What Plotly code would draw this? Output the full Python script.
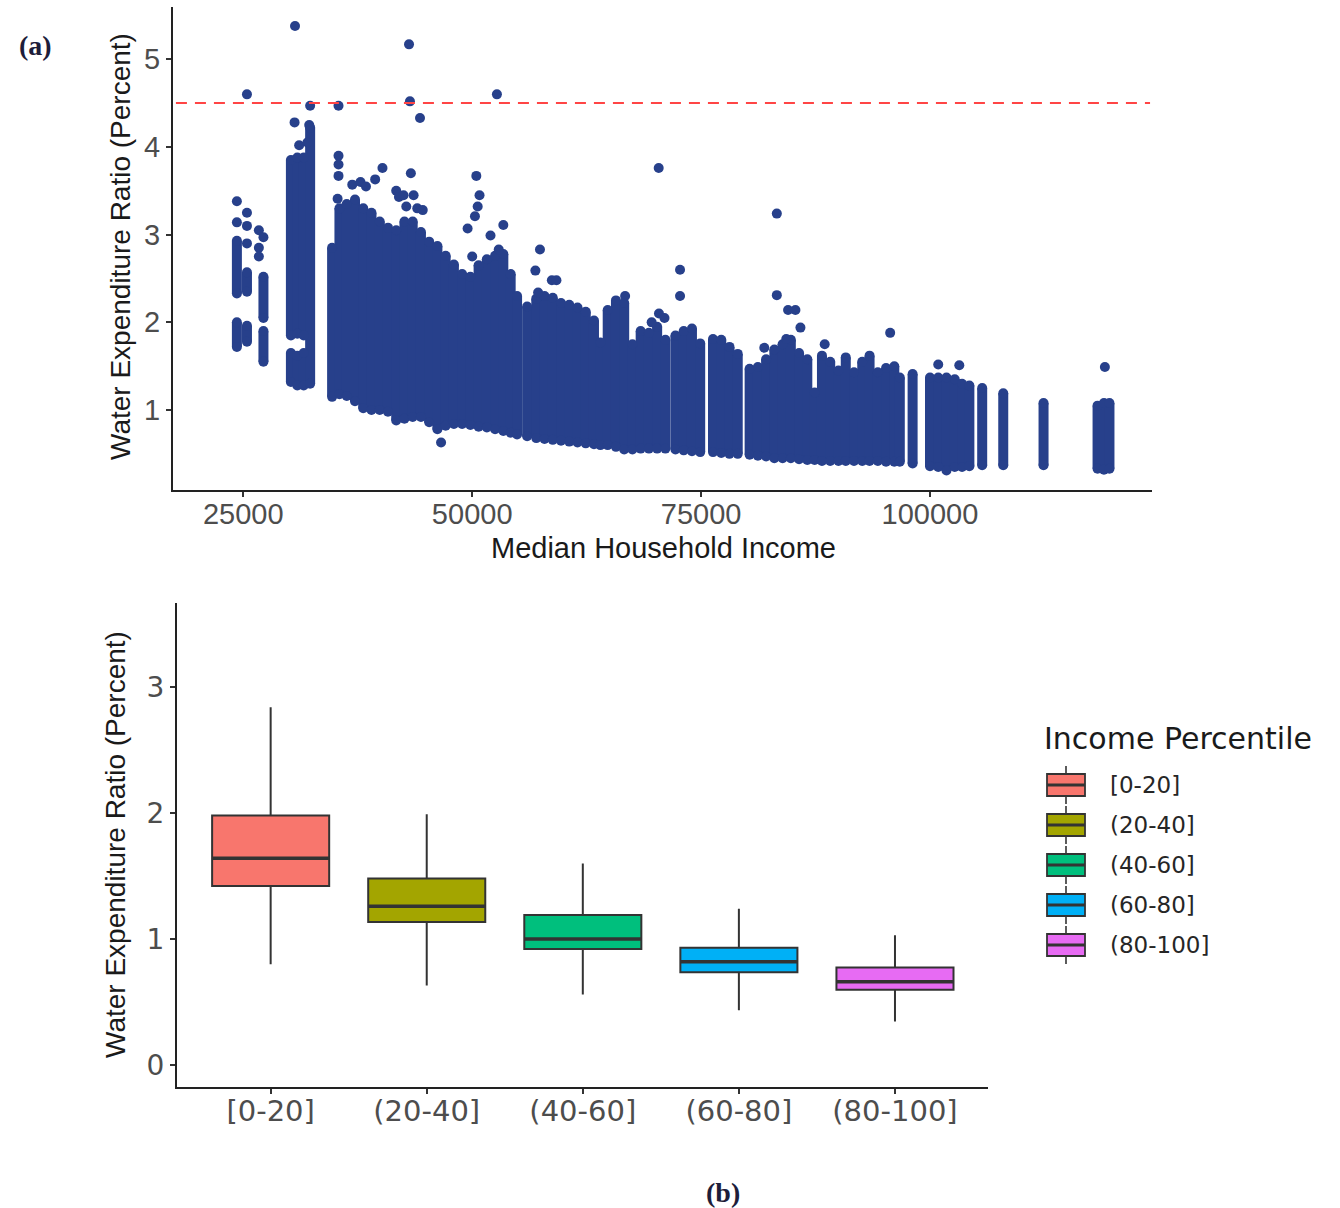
import plotly.graph_objects as go

W, H = 1340, 1208

# ---------------- panel (a): ratio vs median household income ----------------
# Dense tracts are summarised per income level as vertical runs (low..high);
# an income level may appear more than once when its run is broken.
run_income = [24300, 24300, 25400, 25400, 27200, 27200,
              30200, 30200, 30900, 30900, 31600, 31600, 32300,
              34700, 35500,
              36300, 37200, 38100, 39000, 39900, 40800, 41700, 42600, 43500, 44400,
              45300, 46200, 47100, 48000, 48900, 49800, 50700, 51600, 52500, 53400,
              54200, 54900,
              56000, 57000, 57900, 58800, 59700, 60600, 61500, 62400, 63300, 64000,
              64800, 65700, 66600, 67500, 68400, 69300, 70200, 71100, 72200, 73100,
              74000, 74900,
              76300, 77200, 78100, 79000, 80300, 81200, 82100, 83000, 83900, 84800,
              85700, 86600, 87400, 88200, 89100, 90000, 90800, 91700, 92600, 93400,
              94300, 95200, 96100, 96700,
              98100, 100000, 100900, 101800, 102700, 103500, 104300,
              105700, 108000, 112400, 118300, 119000, 119600]
run_low = [2.33, 1.72, 2.35, 1.78, 2.05, 1.55,
           1.85, 1.32, 1.87, 1.28, 1.85, 1.28, 1.30,
           1.15, 1.18,
           1.16, 1.10, 1.02, 1.00, 1.00, 0.98, 0.88, 0.90, 0.92, 0.92,
           0.86, 0.78, 0.82, 0.84, 0.84, 0.83, 0.81, 0.80, 0.78, 0.76,
           0.74, 0.72,
           0.70, 0.68, 0.67, 0.66, 0.65, 0.64, 0.63, 0.62, 0.61, 0.60,
           0.60, 0.58, 0.55, 0.55, 0.56, 0.56, 0.56, 0.56, 0.55, 0.54,
           0.53, 0.52,
           0.52, 0.51, 0.50, 0.50, 0.49, 0.48, 0.47, 0.45, 0.45, 0.45,
           0.44, 0.43, 0.43, 0.42, 0.42, 0.42, 0.42, 0.42, 0.42, 0.42,
           0.42, 0.41, 0.41, 0.41,
           0.39, 0.36, 0.35, 0.31, 0.35, 0.35, 0.36,
           0.37, 0.37, 0.37, 0.33, 0.32, 0.33]
run_high = [2.93, 2.00, 2.57, 1.96, 2.52, 1.90,
            3.85, 1.65, 3.88, 1.62, 3.88, 1.65, 4.22,
            2.85, 3.30,
            3.35, 3.40, 3.30, 3.25, 3.15, 3.08, 3.05, 3.15, 3.15, 3.03,
            2.92, 2.87, 2.76, 2.66, 2.55, 2.52, 2.65, 2.72, 2.76, 2.78,
            2.55, 2.30,
            2.18, 2.27, 2.30, 2.28, 2.22, 2.20, 2.17, 2.12, 2.02, 1.77,
            2.14, 2.25, 2.22, 1.75, 1.90, 1.88, 1.95, 1.80, 1.85, 1.90,
            1.93, 1.76,
            1.81, 1.80, 1.72, 1.64, 1.47, 1.49, 1.58, 1.69, 1.75, 1.80,
            1.65, 1.58, 1.20, 1.62, 1.55, 1.45, 1.60, 1.43, 1.55, 1.62,
            1.43, 1.48, 1.50, 1.37,
            1.41, 1.37, 1.37, 1.37, 1.35, 1.30, 1.28,
            1.25, 1.19, 1.08, 1.05, 1.08, 1.08]

# Isolated observations lying outside the runs
dot_income = [24300, 24300, 25400, 25400, 25400, 25400, 26700, 26700, 26700, 27200,
              30650, 30600, 31100, 32200, 32300, 32000,
              35400, 35400, 35400, 35400, 35300,
              36900, 37800, 38400, 39400, 40200, 41700, 42000, 42500, 42800,
              43100, 43200, 44300, 43300, 43600, 44000, 44600, 46600,
              50000, 49500, 50300, 50600, 50800, 50450,
              52000, 52900, 53400, 52700,
              57400, 56900, 57200, 58700, 59200,
              66700, 69600, 70400, 71000, 70370, 72700, 72700,
              81900, 83270, 83270, 84500, 85300, 85850, 84300,
              88500, 95650, 100900, 103200, 119100]
dot_ratio = [3.38, 3.14, 4.60, 3.25, 3.10, 2.90, 3.05, 2.85, 2.75, 2.97,
             5.38, 4.28, 4.02, 4.25, 4.47, 4.05,
             4.47, 3.90, 3.80, 3.67, 3.41,
             3.57, 3.60, 3.55, 3.63, 3.76, 3.50, 3.43, 3.45, 3.32,
             5.17, 4.52, 4.33, 3.70, 3.45, 3.30, 3.28, 0.63,
             2.75, 3.07, 3.21, 3.32, 3.45, 3.67,
             2.99, 2.83, 3.11, 4.60,
             2.83, 2.59, 2.34, 2.48, 2.48,
             2.30, 2.00, 2.10, 2.05, 3.76, 2.60, 2.30,
             1.71, 3.24, 2.31, 2.14, 2.14, 1.94, 1.81,
             1.75, 1.88, 1.52, 1.51, 1.49]

affordability_threshold = 4.5
income_ticks = [25000, 50000, 75000, 100000]
ratio_ticks_a = [1, 2, 3, 4, 5]

# ---------------- panel (b): ratio by income percentile ----------------
groups = ["[0-20]", "(20-40]", "(40-60]", "(60-80]", "(80-100]"]
box_lower = [0.80, 0.63, 0.56, 0.435, 0.345]
box_q1 = [1.42, 1.135, 0.92, 0.735, 0.596]
box_median = [1.64, 1.26, 1.00, 0.82, 0.66]
box_q3 = [1.98, 1.48, 1.19, 0.93, 0.773]
box_upper = [2.84, 1.99, 1.60, 1.24, 1.03]
group_colors = ["#F8766D", "#A3A500", "#00BF7D", "#00B0F6", "#E76BF3"]
ratio_ticks_b = [0, 1, 2, 3]

SANS = "Liberation Sans, Arial, sans-serif"
WIDE = "DejaVu Sans, sans-serif"
SERIF = "Liberation Serif, serif"
POINT_BLUE = "#27408B"
EDGE = "#333333"
BOX_W = 0.75


def px(x):
    return x / W


def py(y):
    return 1 - y / H


fig = go.Figure()

# vertical runs, drawn as thick segments capped with dots
rx, ry = [], []
for inc, lo, hi in zip(run_income, run_low, run_high):
    rx += [inc, inc, None]
    ry += [lo, hi, None]
fig.add_trace(go.Scatter(
    x=rx, y=ry, mode="lines+markers", connectgaps=False,
    line=dict(color=POINT_BLUE, width=10),
    marker=dict(color=POINT_BLUE, size=10, line=dict(width=0)),
    showlegend=False, hoverinfo="skip", xaxis="x", yaxis="y"))

fig.add_trace(go.Scatter(
    x=dot_income, y=dot_ratio, mode="markers",
    marker=dict(color=POINT_BLUE, size=10, line=dict(width=0)),
    showlegend=False, xaxis="x", yaxis="y"))

# boxplots
for i, g in enumerate(groups):
    fig.add_trace(go.Box(
        x=[i], q1=[box_q1[i]], median=[box_median[i]], q3=[box_q3[i]],
        lowerfence=[box_lower[i]], upperfence=[box_upper[i]],
        width=BOX_W, whiskerwidth=0, boxpoints=False,
        fillcolor=group_colors[i], line=dict(color=EDGE, width=2),
        name=g, showlegend=False, xaxis="x2", yaxis="y2"))

# heavier median bars
mx, my = [], []
for i, m in enumerate(box_median):
    mx += [i - BOX_W / 2, i + BOX_W / 2, None]
    my += [m, m, None]
fig.add_trace(go.Scatter(x=mx, y=my, mode="lines",
                         line=dict(color=EDGE, width=3.5),
                         showlegend=False, hoverinfo="skip",
                         xaxis="x2", yaxis="y2"))

axis_common = dict(showgrid=False, zeroline=False, showline=True,
                   linecolor="#222222", linewidth=2, ticks="outside",
                   ticklen=5, tickwidth=1.6, tickcolor="#333333")

fig.update_layout(
    width=W, height=H, margin=dict(l=0, r=0, t=0, b=0),
    paper_bgcolor="white", plot_bgcolor="white", boxmode="overlay",
    xaxis=dict(domain=[px(173), px(1152)], range=[17322, 124246],
               tickvals=income_ticks, ticktext=[str(v) for v in income_ticks],
               tickfont=dict(family=SANS, size=29, color="#4d4d4d"),
               ticklabelstandoff=-8, anchor="y", **axis_common),
    yaxis=dict(domain=[py(490), py(7)], range=[0.088, 5.596],
               tickvals=ratio_ticks_a, ticktext=[str(v) for v in ratio_ticks_a],
               tickfont=dict(family=SANS, size=29, color="#4d4d4d"),
               anchor="x", **axis_common),
    xaxis2=dict(domain=[px(177), px(988)], range=[-0.6, 4.596],
                tickvals=list(range(len(groups))), ticktext=groups,
                tickfont=dict(family=WIDE, size=29, color="#4d4d4d"),
                ticklabelstandoff=-8, anchor="y2", **axis_common),
    yaxis2=dict(domain=[py(1087), py(603)], range=[-0.175, 3.667],
                tickvals=ratio_ticks_b, ticktext=[str(v) for v in ratio_ticks_b],
                tickfont=dict(family=WIDE, size=28, color="#4d4d4d"),
                anchor="x2", **axis_common),
)

# affordability threshold
fig.add_shape(type="line", xref="x domain", yref="y", x0=0.003, x1=0.998,
              y0=affordability_threshold, y1=affordability_threshold,
              line=dict(color="#FF4545", width=2, dash="11px,8px"))

annotations = [
    dict(text="Median Household Income", x=px(663), y=py(548),
         font=dict(family=SANS, size=29, color="#1a1a1a")),
    dict(text="Water Expenditure Ratio (Percent)", x=px(121), y=py(247),
         textangle=-90, font=dict(family=SANS, size=28, color="#1a1a1a")),
    dict(text="Water Expenditure Ratio (Percent)", x=px(115), y=py(845),
         textangle=-90, font=dict(family=SANS, size=28, color="#1a1a1a")),
    dict(text="<b>(a)</b>", x=px(35), y=py(45),
         font=dict(family=SERIF, size=28, color="#1d1d3a")),
    dict(text="<b>(b)</b>", x=px(723), y=py(1192),
         font=dict(family=SERIF, size=28, color="#1d1d3a")),
    dict(text="Income Percentile", x=px(1042), y=py(738), xanchor="left",
         font=dict(family=WIDE, size=30, color="#1a1a1a")),
]

# legend for the percentile groups
key_x0, key_x1 = 1047, 1085
key_mid = (key_x0 + key_x1) / 2
for i, g in enumerate(groups):
    cy = 785 + 40 * i
    fig.add_shape(type="line", xref="paper", yref="paper",
                  x0=px(key_mid), x1=px(key_mid), y0=py(cy - 19), y1=py(cy + 19),
                  line=dict(color=EDGE, width=1.6))
    fig.add_shape(type="rect", xref="paper", yref="paper",
                  x0=px(key_x0), x1=px(key_x1), y0=py(cy + 11), y1=py(cy - 11),
                  fillcolor=group_colors[i], line=dict(color=EDGE, width=1.8))
    fig.add_shape(type="line", xref="paper", yref="paper",
                  x0=px(key_x0), x1=px(key_x1), y0=py(cy), y1=py(cy),
                  line=dict(color=EDGE, width=3))
    annotations.append(dict(text=g, x=px(1108), y=py(cy), xanchor="left",
                            font=dict(family=WIDE, size=23, color="#262626")))

for a in annotations:
    a.setdefault("xref", "paper")
    a.setdefault("yref", "paper")
    a.setdefault("showarrow", False)
    a.setdefault("xanchor", "center")
    a.setdefault("yanchor", "middle")
    fig.add_annotation(**a)

fig.write_html("out.html")
